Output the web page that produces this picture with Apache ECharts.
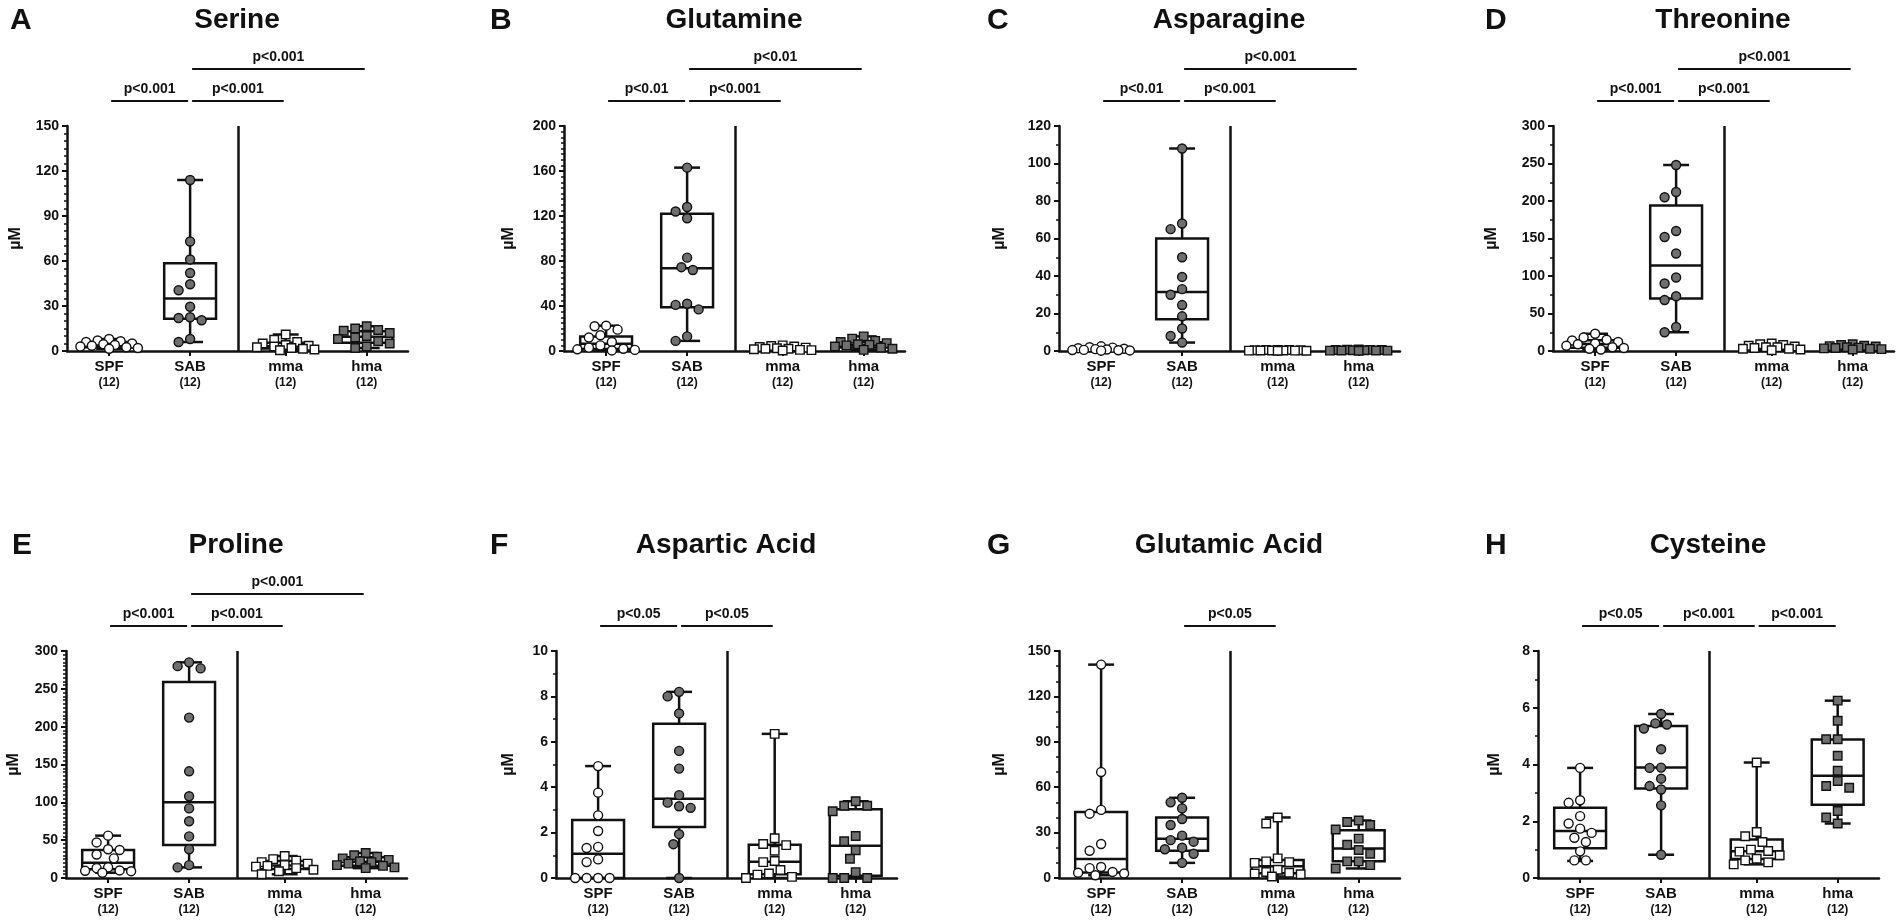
<!DOCTYPE html>
<html>
<head>
<meta charset="utf-8">
<title>Amino acids</title>
<script src="https://cdn.jsdelivr.net/npm/echarts@6/dist/echarts.min.js"></script>
<style>
  html, body { margin: 0; padding: 0; background: #fff; }
  #chart { width: 1902px; height: 922px; }
</style>
</head>
<body>
<div id="chart"></div>
<script>
const groups = ['SPF', 'SAB', 'mma', 'hma'];
const groupN = ['(12)', '(12)', '(12)', '(12)'];
const titles = ['Serine', 'Glutamine', 'Asparagine', 'Threonine', 'Proline', 'Aspartic Acid', 'Glutamic Acid', 'Cysteine'];
const letters = ['A', 'B', 'C', 'D', 'E', 'F', 'G', 'H'];
const yMax = [150, 200, 120, 300, 300, 10, 150, 8];
const yStep = [30, 40, 20, 50, 50, 2, 30, 2];
const yMinor = [6, 8, 2, 2, 10, 2, 3, 2];

// box stats per group: [min, Q1, median, Q3, max]
const serineBox = [[1.5, 2.5, 4.2, 6, 8], [6, 21.5, 35, 58.5, 114], [0.5, 1.7, 3.2, 5.5, 11], [2, 5.5, 9.5, 13.2, 16.5]];
const serinePts = [
  [8, 7, 6.5, 6, 5, 4.5, 4, 3.5, 3, 2.5, 2, 1.5],
  [114, 73, 61, 52, 44.5, 40.5, 29.5, 22.5, 22, 20.5, 8, 6],
  [11, 7.5, 6, 5, 4, 3.5, 3, 2.5, 2, 1.5, 1, 0.5],
  [16.5, 15, 14, 13.5, 12, 10, 9, 8, 6.5, 5, 3, 2]];

const glutamineBox = [[0.5, 1.8, 6.5, 13, 22.5], [9, 39, 73.5, 122, 163], [0.5, 1.2, 2.2, 3.8, 5], [1, 3.2, 5.2, 7.8, 13]];
const glutaminePts = [
  [22.5, 22, 19, 14, 12, 8, 5, 3, 2, 1.5, 1, 0.5],
  [163, 128, 124, 118, 83, 74.5, 72, 42, 41, 37, 13, 9],
  [5, 4.5, 4, 3.5, 3, 2.5, 2, 2, 1.5, 1, 0.8, 0.5],
  [13, 11, 9, 8, 7, 6, 5.5, 5, 4, 3, 2, 1]];

const asparagineBox = [[0.2, 0.45, 0.9, 1.6, 2.5], [4.5, 17, 31.5, 60, 108], [0.1, 0.2, 0.3, 0.4, 0.6], [0.1, 0.25, 0.4, 0.55, 0.8]];
const asparaginePts = [
  [2.5, 2, 1.8, 1.5, 1.2, 1, 0.8, 0.6, 0.5, 0.4, 0.3, 0.2],
  [108, 68, 65, 50, 39.5, 33, 30, 24.5, 18.5, 12, 8, 4.5],
  [0.6, 0.5, 0.5, 0.4, 0.4, 0.3, 0.3, 0.3, 0.2, 0.2, 0.1, 0.1],
  [0.8, 0.7, 0.6, 0.5, 0.5, 0.4, 0.4, 0.3, 0.3, 0.2, 0.2, 0.1]];

const threonineBox = [[2, 4.5, 9.5, 14.5, 23], [25, 70, 114, 194, 248], [1, 3, 5, 7.5, 10], [2, 3.2, 4.8, 6.5, 9]];
const threoninePts = [
  [23, 18, 15, 14, 12, 10, 9, 7, 5, 4, 3, 2],
  [248, 212, 205, 160, 152, 130, 98, 90, 73, 68, 32, 25],
  [10, 9, 8, 7, 6, 5, 5, 4, 3, 3, 2, 1],
  [9, 8, 7, 6.5, 6, 5, 4.5, 4, 3.5, 3, 2.5, 2]];

const prolineBox = [[7, 11.5, 20, 37, 56], [14, 43.5, 100, 259, 285], [5, 12, 16.5, 22.5, 29], [13, 16.2, 21.5, 27.5, 33]];
const prolinePts = [
  [56, 47, 38, 37, 31, 26, 14, 13, 10, 9.5, 9, 7],
  [285, 280, 277, 212, 141, 108, 92, 75, 55, 38, 17, 14],
  [29, 25, 23, 21, 19, 17, 16, 15, 13, 11, 9, 5],
  [33, 30, 28, 26, 24, 22, 21, 19, 17, 16, 14, 13]];

const asparticBox = [[0, 0, 1.07, 2.55, 4.93], [0, 2.25, 3.49, 6.8, 8.2], [0, 0.17, 0.72, 1.47, 6.35], [0, 0.1, 1.42, 3.03, 3.38]];
const asparticPts = [
  [4.93, 3.76, 2.76, 2.07, 1.37, 1.32, 0.82, 0.7, 0, 0, 0, 0],
  [8.2, 8.0, 7.25, 5.6, 4.82, 3.65, 3.32, 3.16, 3.09, 1.93, 1.49, 0],
  [6.35, 1.75, 1.5, 1.45, 1.2, 0.75, 0.7, 0.35, 0.2, 0.15, 0.05, 0],
  [3.38, 3.18, 3.18, 2.94, 1.85, 1.62, 1.22, 0.85, 0.26, 0, 0, 0]];

const glutamicBox = [[1.8, 3.6, 12.6, 43.6, 141], [10, 18, 26, 40, 53], [1, 3.1, 7.75, 11.9, 40], [6.3, 11, 19.5, 31.5, 38]];
const glutamicPts = [
  [141, 70, 45, 42.5, 22.5, 18, 7.3, 6.5, 4, 3.5, 3, 1.8],
  [53, 50, 46, 39, 35, 28, 25, 24, 20, 19, 16, 10],
  [40, 36, 13, 11, 10.5, 10, 5.5, 4, 3.5, 3, 2.5, 1],
  [38, 37, 35, 32, 26, 22, 18.5, 16, 11, 11, 8.5, 6.3]];

const cysteineBox = [[0.6, 1.05, 1.66, 2.48, 3.88], [0.82, 3.15, 3.89, 5.36, 5.78], [0.48, 0.67, 0.94, 1.36, 4.07], [1.92, 2.58, 3.6, 4.88, 6.25]];
const cysteinePts = [
  [3.88, 2.74, 2.65, 2.18, 1.92, 1.74, 1.59, 1.42, 1.27, 0.94, 0.62, 0.62],
  [5.78, 5.45, 5.41, 5.27, 4.54, 3.89, 3.88, 3.5, 3.24, 3.12, 2.56, 0.82],
  [4.07, 1.62, 1.47, 1.27, 1.0, 0.95, 0.93, 0.8, 0.68, 0.62, 0.55, 0.48],
  [6.25, 5.54, 4.89, 4.89, 4.31, 3.78, 3.42, 3.24, 3.18, 2.36, 2.13, 1.92]];

// significance bars: [from group, to group, row, text]
const serineSig = [[0, 1, 0, 'p<0.001'], [1, 2, 0, 'p<0.001'], [1, 3, 1, 'p<0.001']];
const glutamineSig = [[0, 1, 0, 'p<0.01'], [1, 2, 0, 'p<0.001'], [1, 3, 1, 'p<0.01']];
const asparagineSig = [[0, 1, 0, 'p<0.01'], [1, 2, 0, 'p<0.001'], [1, 3, 1, 'p<0.001']];
const threonineSig = [[0, 1, 0, 'p<0.001'], [1, 2, 0, 'p<0.001'], [1, 3, 1, 'p<0.001']];
const prolineSig = [[0, 1, 0, 'p<0.001'], [1, 2, 0, 'p<0.001'], [1, 3, 1, 'p<0.001']];
const asparticSig = [[0, 1, 0, 'p<0.05'], [1, 2, 0, 'p<0.05']];
const glutamicSig = [[1, 2, 0, 'p<0.05']];
const cysteineSig = [[0, 1, 0, 'p<0.05'], [1, 2, 0, 'p<0.001'], [2, 3, 0, 'p<0.001']];

const boxes = [serineBox, glutamineBox, asparagineBox, threonineBox, prolineBox, asparticBox, glutamicBox, cysteineBox];
const points = [serinePts, glutaminePts, asparaginePts, threoninePts, prolinePts, asparticPts, glutamicPts, cysteinePts];
const sigs = [serineSig, glutamineSig, asparagineSig, threonineSig, prolineSig, asparticSig, glutamicSig, cysteineSig];

// layout
const FONT = '"Liberation Sans", Arial, sans-serif';
const INK = '#111';
const GREY = '#6f6f6f';
const lefts = [67, 564, 1059, 1553, 66, 556, 1059, 1538];
const tops = [126, 126, 126, 126, 651, 651, 651, 651];
const heights = [225, 225, 225, 225, 227, 227, 227, 227];
const plotW = 341;
const nameGaps = [43, 47, 51, 53, 44, 39, 51, 35];
const letterX = [10, 490, 987, 1485, 12, 490, 987, 1485];
const xPos = [0, 1, 2.18, 3.18];   // group centres on the x value axis
const sepX = 1.59;
const xMin = -0.52, xMax = 3.69;
const xPx = plotW / (xMax - xMin);

function swarmOffsets(vals, pxPerUnit) {
  const step = 5.75, dia = 10;
  const cands = [0];
  for (let k = 1; k <= 5; k++) cands.push(-k * step, k * step);
  const placed = [];
  const offs = vals.map(() => 0);
  vals.map((v, i) => i).sort((a, b) => vals[b] - vals[a]).forEach(i => {
    const y = vals[i] * pxPerUnit;
    let best = 0, bestD = -1;
    for (const c of cands) {
      let d = Infinity;
      placed.forEach(p => { d = Math.min(d, Math.hypot(p.x - c, p.y - y)); });
      if (d >= dia) { best = c; bestD = d; break; }
      if (d > bestD) { bestD = d; best = c; }
    }
    placed.push({ x: best, y: y });
    offs[i] = best;
  });
  return offs;
}

function renderBox(params, api) {
  const x = api.value(0);
  const lo = api.coord([x, api.value(1)]);
  const q1 = api.coord([x, api.value(2)]);
  const md = api.coord([x, api.value(3)]);
  const q3 = api.coord([x, api.value(4)]);
  const hi = api.coord([x, api.value(5)]);
  const bw = api.size([0.64, 0])[0];
  const cw = bw / 2;
  const cx = lo[0];
  const st = { stroke: INK, lineWidth: 2.5, fill: 'none' };
  return {
    type: 'group',
    children: [
      { type: 'line', shape: { x1: cx, y1: hi[1], x2: cx, y2: q3[1] }, style: st },
      { type: 'line', shape: { x1: cx, y1: q1[1], x2: cx, y2: lo[1] }, style: st },
      { type: 'line', shape: { x1: cx - cw / 2, y1: hi[1], x2: cx + cw / 2, y2: hi[1] }, style: st },
      { type: 'line', shape: { x1: cx - cw / 2, y1: lo[1], x2: cx + cw / 2, y2: lo[1] }, style: st },
      { type: 'rect', shape: { x: cx - bw / 2, y: q3[1], width: bw, height: q1[1] - q3[1] }, style: st },
      { type: 'line', shape: { x1: cx - bw / 2, y1: md[1], x2: cx + bw / 2, y2: md[1] }, style: st }
    ]
  };
}

const grid = [], xAxis = [], yAxis = [], series = [], graphic = [];

for (let p = 0; p < 8; p++) {
  grid.push({ left: lefts[p], top: tops[p], width: plotW, height: heights[p], containLabel: false, outerBoundsMode: 'none' });

  xAxis.push({
    gridIndex: p, type: 'value', min: xMin, max: xMax,
    splitLine: { show: false },
    axisLine: { show: true, onZero: false, lineStyle: { color: INK, width: 2.5 } },
    axisTick: { show: true, customValues: xPos, length: 5, lineStyle: { color: INK, width: 2 } },
    axisLabel: {
      show: true, customValues: xPos, margin: 7,
      formatter: v => {
        const i = xPos.findIndex(q => Math.abs(q - v) < 1e-6);
        return i < 0 ? '' : '{n|' + groups[i] + '}\n{c|' + groupN[i] + '}';
      },
      rich: {
        n: { fontFamily: FONT, fontSize: 15, fontWeight: 'bold', color: INK, lineHeight: 17 },
        c: { fontFamily: FONT, fontSize: 12, fontWeight: 'bold', color: INK, lineHeight: 15 }
      }
    }
  });

  yAxis.push({
    gridIndex: p, type: 'value', min: 0, max: yMax[p], interval: yStep[p],
    name: 'µM', nameLocation: 'middle', nameGap: nameGaps[p],
    nameTextStyle: { fontFamily: FONT, fontSize: 16, fontWeight: 'bold', color: INK },
    splitLine: { show: false },
    axisLine: { show: true, onZero: false, lineStyle: { color: INK, width: 2.5 } },
    axisTick: { show: true, length: 5, lineStyle: { color: INK, width: 2 } },
    minorTick: { show: true, splitNumber: yMinor[p], length: 3, lineStyle: { color: INK, width: 1.5 } },
    minorSplitLine: { show: false },
    axisLabel: { fontFamily: FONT, fontSize: 14, fontWeight: 'bold', color: INK, margin: 8 }
  });

  series.push({
    type: 'custom', xAxisIndex: p, yAxisIndex: p, z: 2, clip: false, silent: true,
    encode: { x: 0, y: [1, 2, 3, 4, 5] },
    data: boxes[p].map((b, g) => [xPos[g]].concat(b)),
    renderItem: renderBox
  });

  const yPx = heights[p] / yMax[p];
  points[p].forEach((vals, g) => {
    const offs = swarmOffsets(vals, yPx);
    const s = {
      type: 'scatter', xAxisIndex: p, yAxisIndex: p, z: 3, clip: false, silent: true,
      symbol: g < 2 ? 'circle' : 'rect',
      symbolSize: g < 2 ? 9 : 8.5,
      itemStyle: { color: g % 2 ? GREY : '#fff', borderColor: INK, borderWidth: 1.4, opacity: 1 },
      data: vals.map((v, k) => [xPos[g] + offs[k] / xPx, v])
    };
    if (g === 0) {
      s.markLine = {
        silent: true, symbol: ['none', 'none'], label: { show: false },
        lineStyle: { color: INK, width: 2.5, type: 'solid' },
        data: [{ xAxis: sepX }]
      };
    }
    series.push(s);
  });

  const sig = sigs[p];
  const top = yMax[p];
  series.push({
    type: 'custom', xAxisIndex: p, yAxisIndex: p, z: 4, clip: false, silent: true,
    encode: { x: [0, 1], y: 2 },
    data: sig.map(s => [xPos[s[0]], xPos[s[1]], s[2]]),
    renderItem: (params, api) => {
      const a = api.coord([api.value(0), top]);
      const b = api.coord([api.value(1), top]);
      const y = a[1] - (api.value(2) ? 57 : 25);
      const x1 = a[0] + 2, x2 = b[0] - 2;
      return {
        type: 'group',
        children: [
          { type: 'line', shape: { x1: x1, y1: y, x2: x2, y2: y }, style: { stroke: INK, lineWidth: 2 } },
          { type: 'text', x: (x1 + x2) / 2, y: y - 12,
            style: { text: sig[params.dataIndex][3], font: 'bold 14px ' + FONT, fill: INK,
                     align: 'center', verticalAlign: 'middle', textAlign: 'center', textVerticalAlign: 'middle' } }
        ]
      };
    }
  });

  graphic.push({
    type: 'text', x: lefts[p] + 170, y: tops[p] - 106, silent: true,
    style: { text: titles[p], font: 'bold 28px ' + FONT, fill: INK,
             align: 'center', verticalAlign: 'middle', textAlign: 'center', textVerticalAlign: 'middle' }
  });
  graphic.push({
    type: 'text', x: letterX[p], y: tops[p] - 105, silent: true,
    style: { text: letters[p], font: 'bold 30px ' + FONT, fill: INK,
             align: 'left', verticalAlign: 'middle', textAlign: 'left', textVerticalAlign: 'middle' }
  });
}

const chart = echarts.init(document.getElementById('chart'), null, { renderer: 'canvas' });
chart.setOption({
  animation: false,
  backgroundColor: '#fff',
  grid: grid,
  xAxis: xAxis,
  yAxis: yAxis,
  series: series,
  graphic: graphic
});
</script>
</body>
</html>
